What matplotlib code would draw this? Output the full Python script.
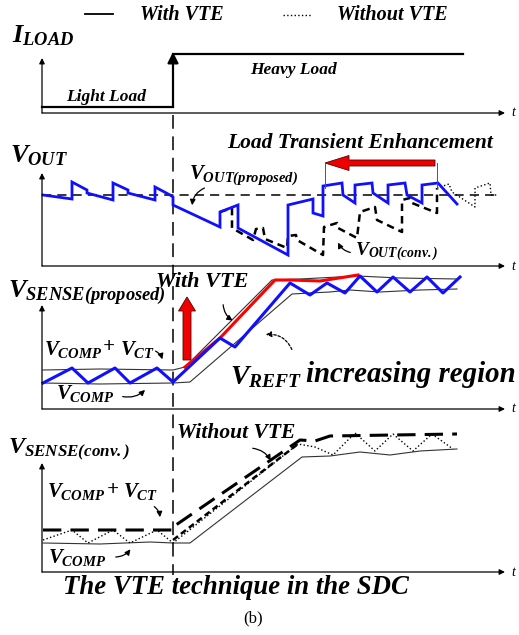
import matplotlib.pyplot as plt
from matplotlib.patches import FancyArrow

plt.rcParams['mathtext.fontset'] = 'custom'
plt.rcParams['mathtext.it'] = 'Liberation Serif:bold:italic'
plt.rcParams['mathtext.rm'] = 'Liberation Serif:bold:italic'
plt.rcParams['mathtext.bf'] = 'Liberation Serif:bold:italic'

# waveform vertices: t (x pixel), value (y pixel, top = 0)
iload_t = [42, 173, 173, 463]
iload_v = [107, 107, 54, 54]

vout_prop_t = [43, 72, 72, 87, 87, 113, 113, 128, 128, 155, 155, 170, 173, 173, 220, 220, 238, 238, 288, 288,
               313, 313, 323, 323, 342, 343, 355, 355, 372, 373, 388, 388, 405, 407, 422, 422, 438, 457]
vout_prop_v = [195, 199, 182, 190, 193, 200, 183, 190, 193, 200, 187, 195, 197, 205, 227, 212, 205, 228, 255, 205,
               199, 213, 216, 186, 183, 195, 203, 185, 183, 193, 203, 185, 183, 195, 203, 185, 183, 204]
vout_conv_t = [220, 232, 232, 253, 256, 263, 265, 287, 288, 296, 297, 323, 324, 337, 338, 357, 360, 375, 377,
               402, 402, 410, 412, 437, 437]
vout_conv_v = [212, 208, 228, 240, 229, 228, 239, 248, 236, 235, 240, 255, 227, 223, 228, 238, 212, 207, 220,
               232, 200, 198, 203, 213, 188]
vout_tail_t = [437, 449, 452, 475, 475, 490, 491, 498]
vout_tail_v = [188, 184, 192, 207, 188, 183, 195, 195]

sp_upper_t = [43, 100, 173, 185, 272, 300, 357, 400, 457]
sp_upper_v = [370, 369, 370, 367, 280, 279, 276, 278, 279]
sp_lower_t = [43, 100, 173, 190, 292, 310, 330, 350, 380, 420, 457]
sp_lower_v = [383, 384, 383, 382, 294, 293, 292, 290, 292, 290, 289]
sp_blue_t = [43, 72, 88, 115, 130, 157, 173, 220, 235, 290, 310, 327, 345, 360, 377, 393, 410, 427, 443, 460]
sp_blue_v = [383, 368, 383, 368, 383, 368, 382, 338, 347, 283, 295, 283, 293, 276, 292, 277, 292, 277, 293, 277]
sp_red_t = [185, 220, 237, 275, 290, 320, 358]
sp_red_v = [367, 338, 320, 280, 280, 281, 275]

sc_lower_t = [43, 100, 150, 173, 190, 302, 330, 360, 390, 420, 457]
sc_lower_v = [543, 544, 542, 543, 543, 457, 456, 452, 455, 451, 449]
sc_upper_t = [43, 173, 173, 300, 315, 330, 457]
sc_upper_v = [530, 530, 527, 440, 441, 436, 434]
sc_mid_t = [173, 298]
sc_mid_v = [540, 444]
sc_tri_t = [43, 72, 88, 113, 130, 157, 173, 298, 315, 333, 355, 375, 393, 413, 432, 453]
sc_tri_v = [540, 530, 543, 530, 543, 530, 543, 444, 447, 455, 433, 451, 434, 451, 434, 449]

axis_y = [113, 266, 409, 572]
axis_top = [58, 173, 305, 463]

fig = plt.figure(figsize=(5.19, 6.35), dpi=100)
ax = fig.add_axes([0, 0, 1, 1])
ax.set_xlim(0, 519)
ax.set_ylim(635, 0)
ax.axis('off')

BI = dict(family='Liberation Serif', weight='bold', style='italic')


def arrow(p_to, p_from, rad=0.0, ls='-'):
    ax.annotate('', xy=p_to, xytext=p_from,
                arrowprops=dict(arrowstyle='-|>', lw=0.9, color='black', mutation_scale=8, ls=ls,
                                connectionstyle=f'arc3,rad={rad}'))


# axes of each panel
for yb, yt in zip(axis_y, axis_top):
    ax.annotate('', xy=(505, yb), xytext=(42, yb),
                arrowprops=dict(arrowstyle='-|>', lw=0.9, color='black', mutation_scale=8, shrinkA=0, shrinkB=0))
    ax.annotate('', xy=(42, yt), xytext=(42, yb),
                arrowprops=dict(arrowstyle='-|>', lw=0.9, color='black', mutation_scale=8, shrinkA=0, shrinkB=0))
    ax.text(511, yb, 't', fontsize=10, ha='left', va='center', family='Liberation Serif', style='italic')

# load step instant
ax.plot([173, 173], [115, 575], color='black', lw=1.1, dashes=(9, 5))

# panel 1: load current
ax.plot(iload_t[:2], iload_v[:2], color='black', lw=1.6)
ax.plot(iload_t[2:], iload_v[2:], color='black', lw=1.6)
ax.annotate('', xy=(173, 52), xytext=(173, 107),
            arrowprops=dict(arrowstyle='-|>', lw=1.6, color='black', mutation_scale=16, shrinkA=0, shrinkB=0))
ax.text(106, 97, 'Light Load', fontsize=12.5, ha='center', va='center', **BI)
ax.text(293, 70, 'Heavy Load', fontsize=12.5, ha='center', va='center', **BI)

# legend
ax.plot([85, 113], [14, 14], color='black', lw=1.3)
ax.text(140, 15, 'With VTE', fontsize=14.5, ha='left', va='center', **BI)
ax.plot([283, 312], [15, 15], color='black', lw=1.0, ls=':')
ax.text(337, 15, 'Without VTE', fontsize=14.5, ha='left', va='center', **BI)
ax.text(12, 35, r'$I_{LOAD}$', fontsize=19, ha='left', va='center')

# panel 2: output voltage
ax.plot([42, 500], [195, 195], color='black', lw=1.1, dashes=(6, 4))
ax.plot(vout_tail_t, vout_tail_v, color='black', lw=1.0, ls=':')
ax.plot(vout_conv_t, vout_conv_v, color='black', lw=1.8, dashes=(3, 2))
ax.plot(vout_prop_t, vout_prop_v, color='#1010ff', lw=2.0, solid_joinstyle='miter')
ax.plot([325, 325], [163, 188], color='#555555', lw=0.7)
ax.plot([437, 437], [163, 188], color='#555555', lw=0.7)
ax.add_patch(FancyArrow(435, 163, -110, 0, width=6, head_width=15, head_length=24,
                        length_includes_head=True, fc='#ee0000', ec='#550000', lw=0.6))
ax.text(360, 143, 'Load Transient Enhancement', fontsize=15.5, ha='center', va='center', **BI)
ax.text(10, 155, r'$V_{OUT}$', fontsize=19, ha='left', va='center')
ax.text(189, 175, r'$V_{OUT(proposed)}$', fontsize=15, ha='left', va='center')
ax.text(355, 252, r'$V_{OUT(conv.)}$', fontsize=14, ha='left', va='center')
arrow((192, 208), (207, 187), 0.35)
arrow((337, 240), (353, 253), -0.3)

# panel 3: sense voltage with VTE
ax.plot(sp_upper_t, sp_upper_v, color='#333333', lw=0.8)
ax.plot(sp_lower_t, sp_lower_v, color='#333333', lw=0.8)
ax.plot(sp_red_t, sp_red_v, color='#ff0000', lw=2.2)
ax.plot(sp_blue_t, sp_blue_v, color='#1010ff', lw=2.2)
ax.add_patch(FancyArrow(187, 360, 0, -63, width=8, head_width=17, head_length=14,
                        length_includes_head=True, fc='#ee0000', ec='#550000', lw=0.6))
ax.text(8, 293, r'$V_{SENSE(proposed)}$', fontsize=19, ha='left', va='center')
ax.text(202, 282, 'With VTE', fontsize=16, ha='center', va='center', **BI)
ax.text(44, 349, r'$V_{COMP}$', fontsize=15, ha='left', va='center')
ax.text(103, 347, '+', fontsize=15, ha='left', va='center', **BI)
ax.text(120, 349, r'$V_{CT}$', fontsize=15, ha='left', va='center')
ax.text(56, 394, r'$V_{COMP}$', fontsize=15, ha='left', va='center')
ax.text(230, 376, r'$V_{REFT}$', fontsize=20, ha='left', va='center')
ax.text(306, 374, 'increasing region', fontsize=20.8, ha='left', va='center', **BI)
arrow((235, 322), (223, 302), 0.3)
arrow((163, 362), (153, 350), -0.3)
arrow((147, 388), (120, 396), 0.3)
arrow((263, 335), (293, 352), 0.4, ls=(0, (2, 1.5)))

# panel 4: sense voltage, conventional
ax.plot(sc_lower_t, sc_lower_v, color='#333333', lw=0.8)
ax.plot(sc_tri_t, sc_tri_v, color='black', lw=1.0, ls=':')
ax.plot(sc_mid_t, sc_mid_v, color='black', lw=1.8, dashes=(2.5, 1.5))
ax.plot(sc_upper_t, sc_upper_v, color='black', lw=2.2, dashes=(6, 3))
ax.text(8, 450, r'$V_{SENSE(conv.)}$', fontsize=17.5, ha='left', va='center')
ax.text(177, 433, 'Without VTE', fontsize=15.5, ha='left', va='center', **BI)
ax.text(47, 492, r'$V_{COMP}$', fontsize=15, ha='left', va='center')
ax.text(107, 490, '+', fontsize=15, ha='left', va='center', **BI)
ax.text(123, 492, r'$V_{CT}$', fontsize=15, ha='left', va='center')
ax.text(48, 557, r'$V_{COMP}$', fontsize=15, ha='left', va='center')
arrow((272, 463), (250, 448), -0.3)
arrow((160, 520), (152, 505), -0.3)
arrow((132, 547), (113, 557), 0.3)

ax.text(236, 588, 'The VTE technique in the SDC', fontsize=19.3, ha='center', va='center', **BI)
ax.text(253, 618, '(b)', fontsize=12, ha='center', va='center', family='Liberation Serif')

fig.savefig('out.png', dpi=100)
